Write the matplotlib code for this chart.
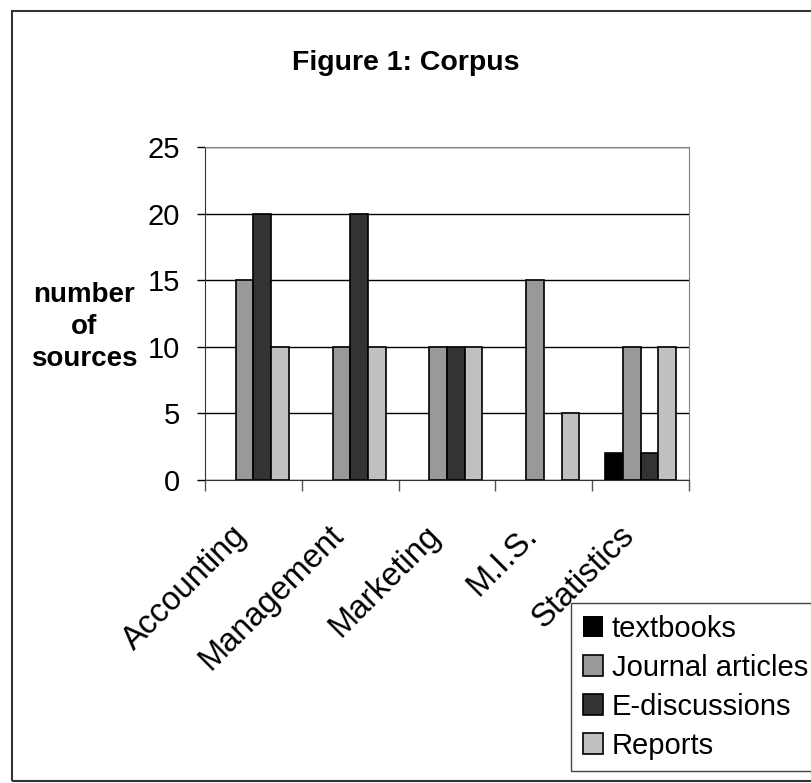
#!/usr/bin/env python3
"""Figure 1: Corpus - grouped bar chart of sources per discipline"""

import numpy as np
import matplotlib
matplotlib.use("Agg")
import matplotlib.pyplot as plt
from matplotlib.patches import Rectangle
from matplotlib.transforms import ScaledTranslation

plt.rcParams['font.family'] = ['Liberation Sans', 'DejaVu Sans']

# Data
categories = ["Accounting", "Management", "Marketing", "M.I.S.", "Statistics"]
series_names = ["textbooks", "Journal articles", "E-discussions", "Reports"]
textbooks = [0, 0, 0, 0, 2]
journal_articles = [15, 10, 10, 15, 10]
e_discussions = [20, 20, 10, 0, 2]
reports = [10, 10, 10, 5, 10]
colors = ["#000000", "#999999", "#333333", "#c0c0c0"]

fig = plt.figure(figsize=(8.11, 7.83), dpi=100)
ax = fig.add_axes([0.2528, 0.387, 0.5968, 0.4253])

x = np.arange(len(categories))
bar_w = 0.183
series = [textbooks, journal_articles, e_discussions, reports]
for i, (vals, name, col) in enumerate(zip(series, series_names, colors)):
    offs = (i - 1.5) * bar_w
    vals = np.array(vals, dtype=float)
    lw = np.where(vals > 0, 1.2, 0.0)
    ax.bar(x + offs, vals, width=bar_w, color=col, edgecolor="black",
           linewidth=lw, label=name, zorder=3)

ax.set_xlim(-0.5, len(categories) - 0.5)
ax.set_ylim(0, 25)
ax.set_yticks(range(0, 26, 5))
ax.tick_params(axis='y', labelsize=21, direction='out', length=6, width=1, pad=12)
ax.yaxis.grid(True, color="black", linewidth=1, zorder=0)

# category boundary ticks on x axis, labels at centres
ax.set_xticks(np.arange(-0.5, len(categories), 1.0))
ax.set_xticklabels([])
ax.tick_params(axis='x', direction='out', length=8, width=1, color="#555555")
ax.set_xticks(x, minor=True)
ax.set_xticklabels(categories, minor=True, rotation=45, ha='right', va='top',
                   rotation_mode='anchor', fontsize=23.5)
ax.tick_params(axis='x', which='minor', length=0, pad=0)
shift = ScaledTranslation(-0.22, -0.40, fig.dpi_scale_trans)
for lbl in ax.get_xticklabels(minor=True):
    lbl.set_transform(lbl.get_transform() + shift)

for side in ["top", "right"]:
    ax.spines[side].set_color("#808080")
ax.spines["left"].set_color("#333333")
ax.spines["bottom"].set_color("#333333")

fig.text(0.5, 0.911, "Figure 1: Corpus", ha='center', va='baseline',
         fontsize=20.5, fontweight='bold')
fig.text(0.104, 0.583, "number\nof\nsources", ha='center', va='center',
         fontsize=20, fontweight='bold', linespacing=1.3)

leg = fig.legend(loc='upper left', bbox_to_anchor=(0.704, 0.23),
                 fontsize=21, frameon=True, fancybox=False, framealpha=1,
                 edgecolor="#444444", handlelength=0.7, handleheight=0.7,
                 handletextpad=0.3, labelspacing=0.38, borderpad=0.4,
                 borderaxespad=0)
leg.get_frame().set_linewidth(1)

fig.patches.append(Rectangle((0.0148, 0.002), 1.2, 0.984, transform=fig.transFigure,
                             fill=False, edgecolor="#333333", linewidth=1.5))

fig.savefig("out.png", dpi=100)
